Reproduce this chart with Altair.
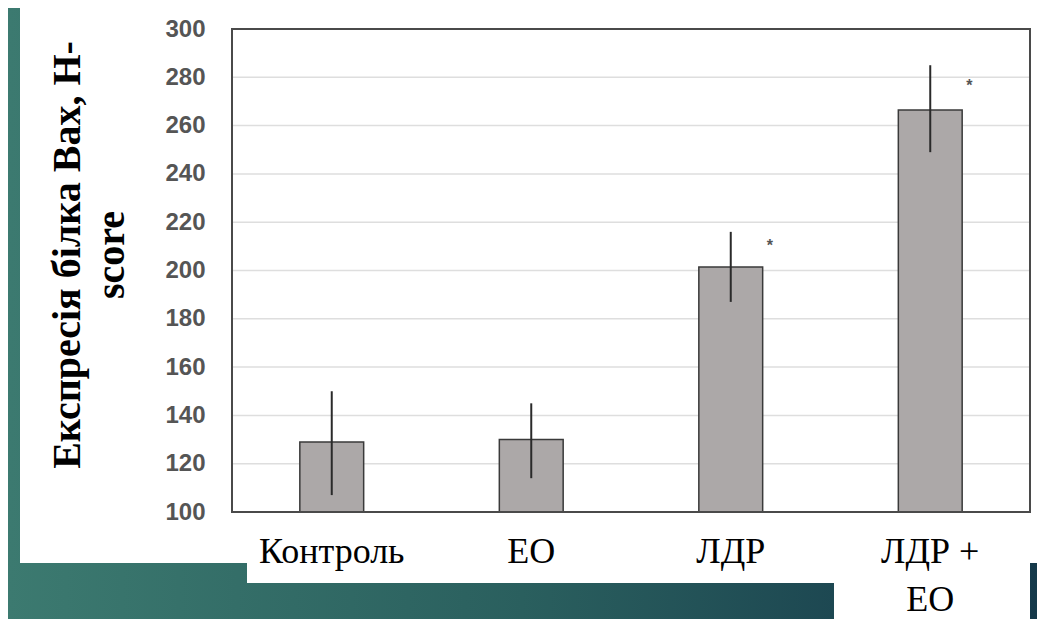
import altair as alt
import pandas as pd

# ---- data ----
categories = ["Контроль", "ЕО", "ЛДР", "ЛДР + ЕО"]
means = [129, 130, 201.5, 266.5]
err_low = [107, 114, 187, 249]
err_high = [150, 145, 216, 285]
star_values = [None, None, 212, 278]
y_ticks = [100, 120, 140, 160, 180, 200, 220, 240, 260, 280, 300]
y_title = ["Експресія білка Bax, H-", "score"]

df = pd.DataFrame({"cat": categories, "mean": means, "lo": err_low, "hi": err_high})
stars = pd.DataFrame({"cat": categories, "v": star_values}).dropna()
grid = pd.DataFrame({"t": y_ticks[1:-1]})

W, H = 798, 483
PAD_L, PAD_T, PAD_R, PAD_B = 224, 21, 7, 107
SERIF = "Liberation Serif"

x_scale = alt.Scale(domain=categories, paddingInner=0.68, paddingOuter=0.34)
y_scale = alt.Scale(domain=[100, 300], nice=False, zero=False)

x_axis = alt.Axis(title=None, ticks=False, domain=False, labels=False)
y_axis = alt.Axis(
    values=y_ticks, grid=False, ticks=False, domain=False, labelPadding=27,
    labelFont="Liberation Sans", labelFontSize=24, labelFontWeight="bold",
    labelColor="#555555", zindex=1, title=None,
)

one = alt.Data(values=[{}])

# slide background (decorative)
bg = alt.Chart(one).mark_rect(
    fill=alt.Gradient(gradient="linear", x1=0, x2=1, y1=0, y2=0,
                      stops=[alt.GradientStop(color="#3c7a70", offset=0),
                             alt.GradientStop(color="#2a5f5e", offset=0.5),
                             alt.GradientStop(color="#15394a", offset=1)])
).encode(x=alt.value(-PAD_L), x2=alt.value(W + PAD_R), y=alt.value(-PAD_T), y2=alt.value(H + PAD_B))

panel_a = alt.Chart(one).mark_rect(fill="white").encode(
    x=alt.value(-212), x2=alt.value(809), y=alt.value(-PAD_T), y2=alt.value(534))
panel_b = alt.Chart(one).mark_rect(fill="white").encode(
    x=alt.value(15), x2=alt.value(603), y=alt.value(533), y2=alt.value(554))
panel_c = alt.Chart(one).mark_rect(fill="white").encode(
    x=alt.value(602), x2=alt.value(798), y=alt.value(533), y2=alt.value(H + PAD_B))

gridlines = alt.Chart(grid).mark_rule(color="#dedede", strokeWidth=1.5).encode(
    y=alt.Y("t:Q", scale=y_scale, axis=y_axis))

bars = alt.Chart(df).mark_bar(fill="#aca8a8", stroke="#3a3a3a", strokeWidth=1.5).encode(
    x=alt.X("cat:N", scale=x_scale, axis=x_axis, sort=categories),
    y=alt.Y("mean:Q", scale=y_scale, axis=y_axis),
    y2=alt.datum(100),
)

errs = alt.Chart(df).mark_rule(color="#2a2a2a", strokeWidth=2).encode(
    x=alt.X("cat:N", scale=x_scale, axis=x_axis, sort=categories),
    y=alt.Y("lo:Q", scale=y_scale, axis=y_axis),
    y2="hi:Q",
)

star_marks = alt.Chart(stars).mark_text(
    text="*", font="Liberation Sans", fontSize=16, color="#555555",
    dx=39, dy=4, baseline="middle", fontWeight="bold",
).encode(
    x=alt.X("cat:N", scale=x_scale, axis=x_axis, sort=categories),
    y=alt.Y("v:Q", scale=y_scale, axis=y_axis),
)

# category labels (serif), drawn as text through the band scale
x_labels = alt.Chart(df).transform_calculate(
    lab="datum.cat == 'ЛДР + ЕО' ? 'ЛДР +|ЕО' : datum.cat"
).mark_text(
    font=SERIF, fontSize=36, color="#000000", baseline="top", align="center",
    lineBreak="|", lineHeight=48,
).encode(
    x=alt.X("cat:N", scale=x_scale, axis=x_axis, sort=categories),
    y=alt.value(H + 23),
    text="lab:N",
)

# y-axis title (serif bold, rotated)
title_mark = alt.Chart(one).mark_text(
    text=y_title, font=SERIF, fontSize=40, fontWeight="bold", color="#000000",
    angle=270, align="center", baseline="middle", lineHeight=44,
).encode(x=alt.value(-164), y=alt.value(226))

frame = alt.Chart(one).mark_rect(fillOpacity=0, stroke="#4a4a4a", strokeWidth=2).encode(
    x=alt.value(0), x2=alt.value(W), y=alt.value(0), y2=alt.value(H))

chart = alt.layer(bg, panel_a, panel_b, panel_c, gridlines, bars, errs, star_marks,
                  x_labels, title_mark, frame).properties(
    width=W, height=H,
    padding={"left": PAD_L, "top": PAD_T, "right": PAD_R, "bottom": PAD_B},
    autosize=alt.AutoSizeParams(type="none"),
).configure(background="#2a5f5e").configure_view(stroke=None)

chart.save("out.html", embed_options={"renderer": "svg", "actions": False})
